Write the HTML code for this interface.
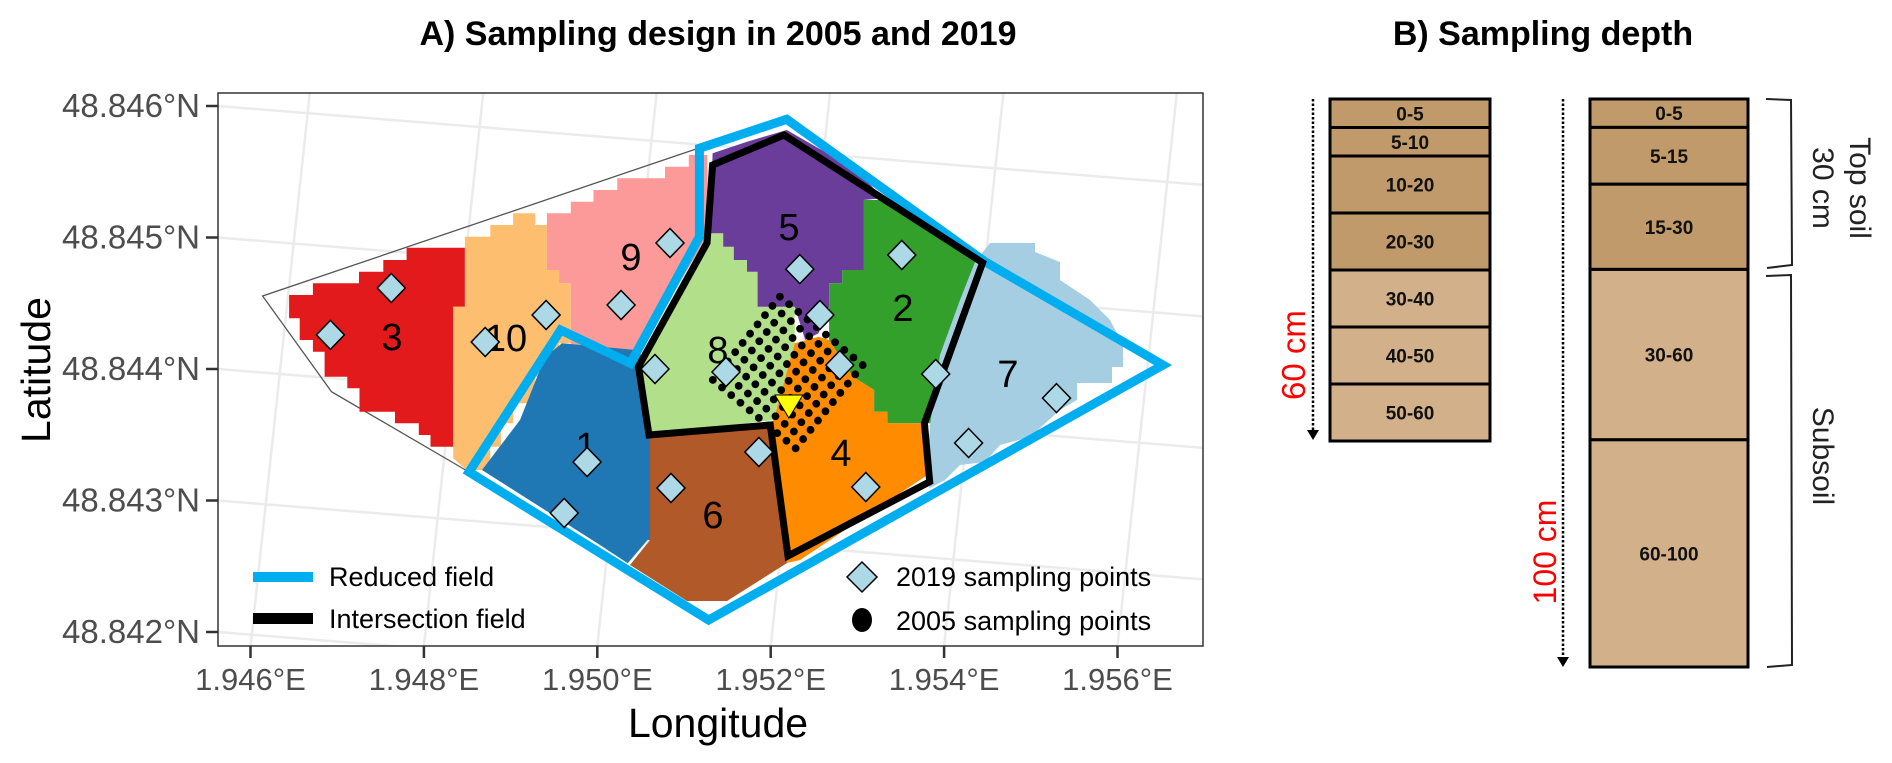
<!DOCTYPE html>
<html><head><meta charset="utf-8"><title>Sampling design</title>
<style>
html,body{margin:0;padding:0;background:#fff;}
svg{display:block;font-family:"Liberation Sans",Arial,sans-serif;}
</style></head>
<body>
<svg id="fig" width="1892" height="763" viewBox="0 0 1892 763" xmlns="http://www.w3.org/2000/svg">
<rect width="1892" height="763" fill="#fff"/>
<text x="718" y="45" text-anchor="middle" font-size="34" font-weight="bold" fill="#000">A) Sampling design in 2005 and 2019</text>
<text x="1543" y="45" text-anchor="middle" font-size="34" font-weight="bold" fill="#000">B) Sampling depth</text>
<defs><clipPath id="frameClip"><rect x="218" y="93" width="985" height="553"/></clipPath></defs>
<g id="grid" clip-path="url(#frameClip)"></g>
<g id="map" clip-path="url(#frameClip)"></g>
<rect x="218" y="93" width="985" height="553" fill="none" stroke="#333" stroke-width="1.5"/>
<g id="axes"></g>
<text x="0" y="0" transform="translate(50,370) rotate(-90)" text-anchor="middle" font-size="41" fill="#000">Latitude</text>
<text x="718" y="737" text-anchor="middle" font-size="41" fill="#000">Longitude</text>
<g id="legend">
  <rect x="253" y="572" width="60" height="10" fill="#00aeef"/>
  <text x="329" y="586" font-size="27" fill="#000">Reduced field</text>
  <rect x="253" y="613" width="60" height="11" fill="#000"/>
  <text x="329" y="628" font-size="27" fill="#000">Intersection field</text>
  <polygon points="862,562 877,577 862,592 847,577" fill="#add8e6" stroke="#000" stroke-width="1.5"/>
  <text x="896" y="586" font-size="27" fill="#000">2019 sampling points</text>
  <ellipse cx="862" cy="620" rx="10" ry="12" fill="#000"/>
  <text x="896" y="630" font-size="27" fill="#000">2005 sampling points</text>
</g>
<g id="depth"></g>
</svg>
<script>
// ---- data ----
const latTicks = [48.846, 48.845, 48.844, 48.843, 48.842];
const lonTicks = [1.946, 1.948, 1.950, 1.952, 1.954, 1.956];
const pts2019Lon = [1.947624,1.946922,1.948707,1.949410,1.950274,1.950839,1.952336,1.953512,1.952567,1.950666,1.951484,1.952797,1.953903,1.954283,1.949882,1.949618,1.950850,1.951864,1.953097,1.955297];
const pts2019Lat = [48.844616,48.844259,48.844205,48.844411,48.844487,48.844958,48.844760,48.844867,48.844411,48.844000,48.843977,48.844030,48.843962,48.843437,48.843293,48.842905,48.843095,48.843369,48.843103,48.843779];
const stationLon = [1.952210];
const stationLat = [48.843711];
const grid2005CornerLon = [1.952106];   // top corner of 2005 grid
const grid2005CornerLat = [48.844550];
const grid2005Rows = 10, grid2005Cols = 10;
const layersShallowTop = [0,5,10,20,30,40,50];
const layersShallowBot = [5,10,20,30,40,50,60];
const layersShallowLabels = ["0-5","5-10","10-20","20-30","30-40","40-50","50-60"];
const layersDeepTop = [0,5,15,30,60];
const layersDeepBot = [5,15,30,60,100];
const layersDeepLabels = ["0-5","5-15","15-30","30-60","60-100"];

const NS="http://www.w3.org/2000/svg";
function mk(tag, attrs, parent){const e=document.createElementNS(NS,tag);for(const k in attrs)e.setAttribute(k,attrs[k]);parent.appendChild(e);return e;}
// axis functions
const xLon = lon => 250.5 + (lon-1.946)/0.002*173.4;
const yLat = lat => 632 - (lat-48.842)/0.001*131.5;

// graticule
const grid=document.getElementById('grid');
latTicks.forEach(l=>{const y=yLat(l);const e=mk('line',{x1:150,y1:y-5.4,x2:1260,y2:y+83.4,stroke:'#ebebeb','stroke-width':2.5},grid);

});
lonTicks.forEach(g=>{const x=xLon(g);const e=mk('line',{x1:x-2,y1:665,x2:x+65,y2:40,stroke:'#ebebeb','stroke-width':2.5},grid);

});

// axes ticks & labels
const axes=document.getElementById('axes');
latTicks.forEach(l=>{const y=yLat(l);
 const t=mk('line',{x1:206,y1:y,x2:218,y2:y,stroke:'#333','stroke-width':2.5},axes);
 
 
 const tx=mk('text',{x:200,y:y+11,'text-anchor':'end','font-size':33,fill:'#4d4d4d'},axes);tx.textContent=l.toFixed(3)+'°N';
 
 });
lonTicks.forEach(g=>{const x=xLon(g);
 const t=mk('line',{x1:x,y1:646,x2:x,y2:658,stroke:'#333','stroke-width':2.5},axes);
 
 
 const tx=mk('text',{x:x,y:690,'text-anchor':'middle','font-size':31,fill:'#4d4d4d'},axes);tx.textContent=g.toFixed(3)+'°E';
 
 });

// basemap geometry helpers (zoom-reference coordinates -> page pixels)
const z1=(x,y)=>[170+x*0.5294,70+y/3];
const z3=(x,y)=>[170+x*0.6633,400+y/3];
const P=arr=>arr.map(p=>p[0].toFixed(1)+','+p[1].toFixed(1)).join(' ');
const map=document.getElementById('map');

// field outline
const ol=mk('polyline',{points:P([[469,472],[331.5,391.7],[262.6,296],[699,148]]),fill:'none',stroke:'#555','stroke-width':1.3},map);



const zones=[
 {n:'3',c:'#e31a1c',pts:[z1(447,533),z1(557,533),z1(557,710),z1(535,710),z1(535,1130),z1(492,1130),z1(492,1095),z1(470,1095),z1(470,1060),z1(425,1060),z1(425,1025),z1(358,1025),z1(358,955),z1(335,955),z1(335,920),z1(292,920),z1(292,845),z1(270,845),z1(270,810),z1(245,810),z1(245,745),z1(225,745),z1(225,675),z1(270,675),z1(270,640),z1(357,640),z1(357,605),z1(403,605),z1(403,570),z1(447,570)],lx:392,ly:337},
 {n:'10',c:'#fdbf6f',pts:[z1(557,500),z1(605,500),z1(605,465),z1(648,465),z1(648,430),z1(690,430),z1(690,465),z1(712,465),z1(712,600),z1(735,600),z1(735,640),z1(757,640),z1(757,820),z1(735,820),z1(735,860),z1(712,860),z1(712,920),z1(690,920),z1(690,1000),z1(648,1000),z1(648,1060),z1(625,1060),z1(625,1130),z1(605,1130),z1(605,1200),z1(560,1200),z1(535,1165),z1(535,710),z1(557,710)],lx:506,ly:338},
 {n:'9',c:'#fb9a99',pts:[z1(712,430),z1(757,430),z1(757,395),z1(800,395),z1(800,360),z1(845,360),z1(845,325),z1(890,325),z1(935,325),z1(935,290),z1(980,290),z1(980,255),z1(1015,255),z1(1015,500),z1(870,880),z1(780,850),z1(757,850),z1(757,640),z1(735,640),z1(735,600),z1(712,600)],lx:631,ly:257},
 {n:'1',c:'#1f78b4',pts:[z1(740,820),z1(880,840),z1(905,880),z1(915,1410),z3(720,420),z3(690,490),[600,545],[482,470],[520,420],[545,357],[560,345]],lx:586,ly:446},
 {n:'6',c:'#b15928',pts:[[650,433],[770,425],[787,563],[727,601],[687,601],[630,565],[650,540]],lx:713,ly:515},
 {n:'8',c:'#b2df8a',pts:[z1(1020,490),z1(1045,490),z1(1045,530),z1(1065,530),z1(1065,570),z1(1090,570),z1(1090,605),z1(1110,605),z1(1110,710),z1(1180,710),z1(1180,820),z1(1140,1050),z1(905,1095),z1(880,890)],lx:718,ly:350},
 {n:'5',c:'#6a3d9a',pts:[z1(1025,250),z1(1090,215),z1(1165,180),z1(1220,230),z1(1265,270),z1(1310,320),z1(1345,385),z1(1310,390),z1(1310,600),z1(1270,600),z1(1270,640),z1(1245,640),z1(1245,710),z1(1225,790),z1(1200,810),z1(1180,710),z1(1110,710),z1(1110,605),z1(1090,605),z1(1090,570),z1(1065,570),z1(1065,530),z1(1045,530),z1(1045,490),z1(1020,490)],lx:789,ly:227},
 {n:'2',c:'#33a02c',pts:[z1(1310,390),z1(1370,390),z1(1545,575),z1(1515,600),z1(1490,710),z1(1470,860),z1(1440,1060),z1(1355,1060),z1(1355,1025),z1(1330,1025),z1(1330,960),z1(1290,920),z1(1245,810),z1(1245,640),z1(1270,640),z1(1270,600),z1(1310,600)],lx:903,ly:308},
 {n:'4',c:'#ff8c00',pts:[z1(1180,820),z1(1225,800),z1(1245,810),z1(1290,920),z1(1330,960),z1(1330,1025),z1(1355,1025),z1(1355,1060),z1(1430,1060),z1(1445,1240),[935,470],[800,560],[787,563],[770,425],z1(1140,1050)],lx:841,ly:453},
 {n:'7',c:'#a6cee3',pts:[[975,262],[990,243],[1035,243],[1035,252],[1060,262],[1060,280],[1090,300],[1110,320],[1123,345],[1123,367],[1112,367],[1112,383],[1077,383],[1077,400],[1060,410],[1030,437],[1000,445],[985,462],[960,465],[945,480],[930,488],[926,483],[930,425],[940,355],[960,300]],lx:1008,ly:374}
];
zones.forEach(z=>{const e=mk('polygon',{points:P(z.pts),fill:z.c},map);
 
 });
zones.forEach(z=>{const t=mk('text',{x:z.lx,y:z.ly+13,'text-anchor':'middle','font-size':38,fill:'#000'},map);t.textContent=z.n;
 
 });

// 2005 sampling grid (rotated regular grid)
const gx0=xLon(grid2005CornerLon[0]), gy0=yLat(grid2005CornerLat[0]);
for(let i=0;i<grid2005Rows;i++)for(let j=0;j<grid2005Cols;j++){
 const cx=gx0+i*9.2-j*7.45, cy=gy0+i*7.6+j*9.25;
 const d=mk('circle',{cx:cx,cy:cy,r:3.9,fill:'#000'},map);
 
 
}

// reduced field & intersection field
const red=mk('polygon',{points:P([[469,472],[560.7,330],[630.6,363.3],[699.4,236.7],[699.4,148.3],[786.7,119.3],[985,261.7],[1163,365],[708.6,620]]),fill:'none',stroke:'#00aeef','stroke-width':9,'stroke-linejoin':'miter'},map);


const inter=mk('polygon',{points:P([[712.6,165],[784,135],[982.6,262.7],[924.4,423.3],[929.7,481.7],[788,556],[770.3,425],[649,435],[638.5,366.7],[707,243]]),fill:'none',stroke:'#000','stroke-width':7},map);



// 2019 points
pts2019Lon.forEach((lon,i)=>{const x=xLon(lon),y=yLat(pts2019Lat[i]);
 const d=mk('polygon',{points:P([[x,y-14.5],[x+14,y],[x,y+14.5],[x-14,y]]),fill:'#add8e6',stroke:'#000','stroke-width':1.5},map);
 
 });
// station triangle
stationLon.forEach((lon,i)=>{const x=xLon(lon),y=yLat(stationLat[i]);
 const t=mk('polygon',{points:P([[x-14,y-12],[x+14,y-12],[x,y+11]]),fill:'#ffff00',stroke:'#000','stroke-width':1},map);
 
 });

// ---- depth panel ----
const dep=document.getElementById('depth');
function column(tops,bots,labels,x0,w,yTop,scale,fillFn,name){
 tops.forEach((t,i)=>{
  const y=yTop+t*scale,h=(bots[i]-t)*scale;
  const r=mk('rect',{x:x0,y:y,width:w,height:h,fill:fillFn(t),stroke:'#000','stroke-width':3},dep);
  
  
  const tx=mk('text',{x:x0+w/2,y:y+h/2+7,'text-anchor':'middle','font-size':19,'font-weight':'bold',fill:'#111'},dep);tx.textContent=labels[i];
  
  
 });
}
const soilFill=t=>t<30?'#c19a6b':'#d1b08a';
column(layersShallowTop,layersShallowBot,layersShallowLabels,1330,160,99,5.7,soilFill,'shallow-profile');
column(layersDeepTop,layersDeepBot,layersDeepLabels,1590,158,99,5.68,soilFill,'deep-profile');

// arrows
function arrow(x,y1,y2,name){
 const l=mk('line',{x1:x,y1:y1,x2:x,y2:y2-9,stroke:'#000','stroke-width':2.5,'stroke-dasharray':'2.5,2'},dep);
 
 
 const h=mk('polygon',{points:(x-6)+','+(y2-10)+' '+(x+6)+','+(y2-10)+' '+x+','+y2,fill:'#000'},dep);
 
 
}
arrow(1313,99,440,'depth-arrow-60');
arrow(1563,99,667,'depth-arrow-100');
const t60=mk('text',{transform:'translate(1305,355) rotate(-90)','text-anchor':'middle','font-size':33,fill:'#ff0000'},dep);t60.textContent='60 cm';


const t100=mk('text',{transform:'translate(1556,552) rotate(-90)','text-anchor':'middle','font-size':32,fill:'#ff0000'},dep);t100.textContent='100 cm';



// braces
const b1=mk('path',{d:'M1766,99 L1791,100 L1792,265 L1767,268',fill:'none',stroke:'#222','stroke-width':2},dep);


const b2=mk('path',{d:'M1766,276 L1791,275 L1792,665 L1767,667',fill:'none',stroke:'#222','stroke-width':2},dep);


const ts=mk('text',{transform:'translate(1850,188) rotate(90)','text-anchor':'middle','font-size':30,fill:'#222'},dep);ts.textContent='Top soil';


const t30=mk('text',{transform:'translate(1813,188) rotate(90)','text-anchor':'middle','font-size':30,fill:'#222'},dep);t30.textContent='30 cm';


const ss=mk('text',{transform:'translate(1813,456) rotate(90)','text-anchor':'middle','font-size':30,fill:'#222'},dep);ss.textContent='Subsoil';


</script>
</body></html>
